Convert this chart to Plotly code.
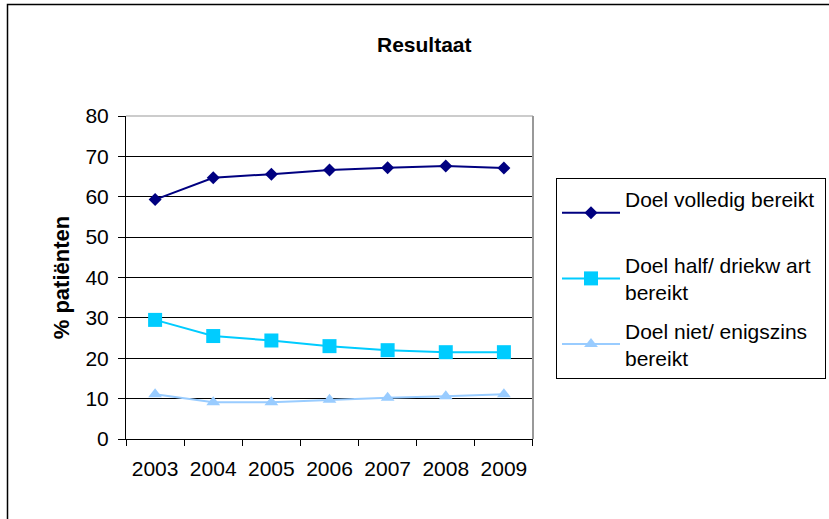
import plotly.graph_objects as go

years = ["2003", "2004", "2005", "2006", "2007", "2008", "2009"]
volledig = [59.3, 64.7, 65.6, 66.6, 67.2, 67.6, 67.1]
half = [29.5, 25.5, 24.4, 23.0, 22.0, 21.5, 21.5]
niet = [11.1, 9.1, 9.1, 9.7, 10.2, 10.6, 11.1]
names = ["Doel volledig bereikt&#160;<br>&#160;", "Doel half/ driekw art<br>bereikt", "Doel niet/ enigszins<br>bereikt"]
y_ticks = [0, 10, 20, 30, 40, 50, 60, 70, 80]

FONT = "Liberation Sans, Arial, sans-serif"

# plot area in page pixels
L, R, T, B = 126, 533, 116, 439
W, H = 829, 519


def px(x):
    return (x - L) / (R - L)


def py(y):
    return (B - y) / (B - T)


fig = go.Figure()
fig.add_trace(go.Scatter(x=years, y=volledig, name=names[0], mode="lines+markers",
                         line=dict(color="#000080", width=2),
                         marker=dict(symbol="diamond", size=10, color="#000080"),
                         legendgroup="a"))
fig.add_trace(go.Scatter(x=years, y=half, name=names[1], mode="lines+markers",
                         line=dict(color="#00CCFF", width=2),
                         marker=dict(symbol="square", size=14, color="#00CCFF"),
                         legendgroup="b"))
fig.add_trace(go.Scatter(x=years, y=niet, name=names[2], mode="lines+markers",
                         line=dict(color="#99CCFF", width=2),
                         marker=dict(symbol="triangle-up", size=12, color="#99CCFF"),
                         legendgroup="c"))

fig.update_layout(
    width=W, height=H,
    margin=dict(l=L, r=W - R, t=T, b=H - B),
    paper_bgcolor="white", plot_bgcolor="white",
    font=dict(family=FONT, size=21, color="black"),
    showlegend=True,
    legend=dict(xref="container", yref="container",
                x=556 / W, y=1 - 178 / H, xanchor="left", yanchor="top",
                bordercolor="black", borderwidth=1,
                font=dict(family=FONT, size=21, color="black"),
                traceorder="grouped", tracegroupgap=8,
                itemwidth=58),
    annotations=[
        dict(text="<b>Resultaat</b>", x=px(424), y=py(45), xref="paper", yref="paper",
             xanchor="center", yanchor="middle",
             showarrow=False, font=dict(family=FONT, size=21)),
    ],
)

fig.update_xaxes(type="category", tickson="boundaries", ticks="outside", ticklen=6,
                 tickcolor="black", showline=True, linecolor="black", linewidth=1,
                 showgrid=False, tickfont=dict(size=21), ticklabelstandoff=11)
fig.update_yaxes(range=[0, 80], tickvals=y_ticks, ticks="outside", ticklen=7,
                 tickcolor="black", showline=True, linecolor="black", linewidth=1,
                 showgrid=True, gridcolor="black", gridwidth=1, zeroline=False,
                 tickfont=dict(size=21), ticklabelstandoff=5,
                 title=dict(text="<b>% patiënten</b>", font=dict(size=22), standoff=9))

# gray plot-area border (top and right) and outer frame
fig.add_shape(type="line", xref="x domain", yref="y domain", x0=0, x1=1, y0=1, y1=1,
              line=dict(color="#999999", width=1))
fig.add_shape(type="line", xref="x domain", yref="y domain", x0=1, x1=1, y0=0, y1=1,
              line=dict(color="#999999", width=2))
fig.add_shape(type="rect", xref="paper", yref="paper",
              x0=px(7.5), x1=px(840), y0=py(540), y1=py(4.5),
              line=dict(color="black", width=1.5), layer="below")

fig.write_html("out.html", config={"displayModeBar": False},
               post_script="document.body.style.margin='0';")
